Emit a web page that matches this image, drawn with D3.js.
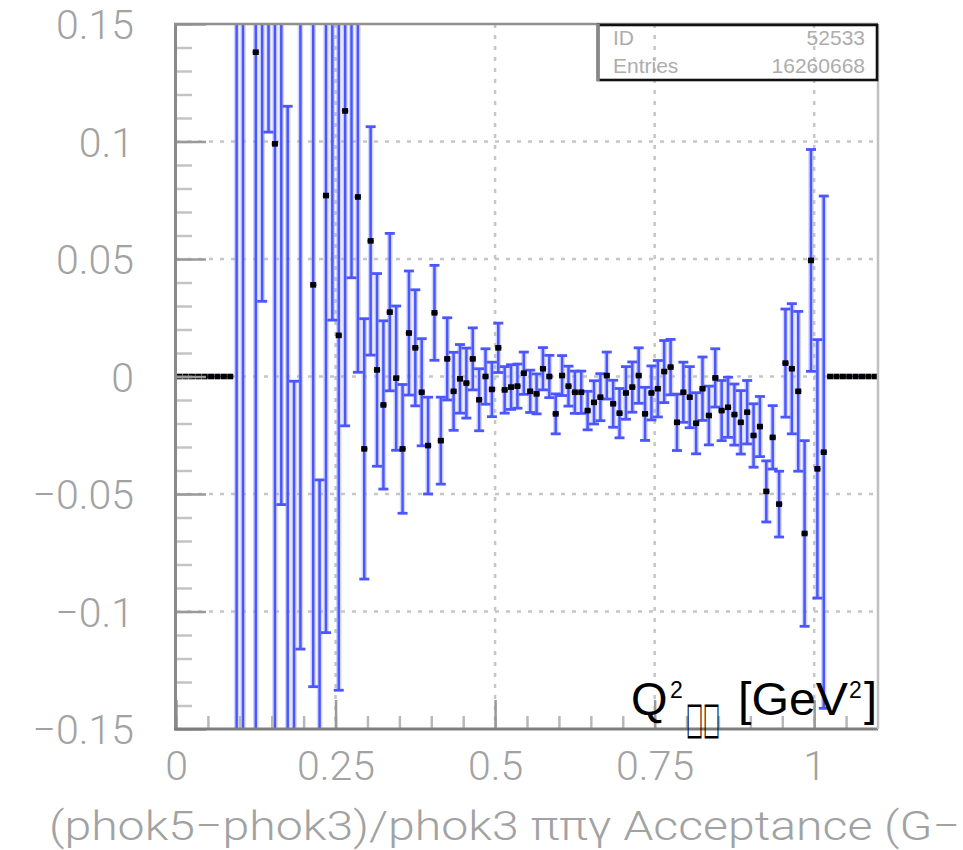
<!DOCTYPE html>
<html><head><meta charset="utf-8">
<script src="https://cdn.jsdelivr.net/npm/d3@7"></script>
<style>html,body{margin:0;padding:0;background:#fff;} svg{display:block}</style>
</head><body><svg id="chart" width="963" height="850"></svg>
<script>
// ---- data (bin centres, bin contents, bin errors) ----
const binCenters = [
  0.005,0.015,0.025,0.035,0.045,0.055,0.065,0.075,0.085,
  0.095,0.105,
  0.125,0.135,0.145,0.155,0.165,0.175,0.185,0.195,
  0.215,0.225,0.235,0.245,0.255,0.265,0.275,0.285,0.295,0.305,
  0.315,0.325,0.335,0.345,0.355,0.365,0.375,0.385,0.395,0.405,
  0.415,0.425,0.435,0.445,0.455,0.465,0.475,0.485,0.495,0.505,
  0.515,0.525,0.535,0.545,0.555,0.565,0.575,0.585,0.595,0.605,
  0.615,0.625,0.635,0.645,0.655,0.665,0.675,0.685,0.695,0.705,
  0.715,0.725,0.735,0.745,0.755,0.765,0.775,0.785,0.795,0.805,
  0.815,0.825,0.835,0.845,0.855,0.865,0.875,0.885,0.895,0.905,
  0.915,0.925,0.935,0.945,0.955,0.965,0.975,0.985,0.995,1.005,
  1.015,
  1.025,1.035,1.045,1.055,1.065,1.075,1.085,1.095
];
const values = [
  0,0,0,0,0,0,0,0,0,
  0.30,-0.25,
  0.138,0.18,0.20,0.099,0.17,-0.17,-0.20,0.17,
  0.039,-0.20,0.077,0.17,0.0175,0.113,0.16,0.0764,-0.0308,0.0577,
  0.0028,-0.0121,0.0274,-0.0007,-0.0308,0.0185,0.0122,-0.0067,-0.0294,0.0271,
  -0.0273,0.0075,-0.0063,-0.001,-0.0028,0.0075,-0.0099,0.0,-0.0055,0.0122,
  -0.0057,-0.0045,-0.0041,0.0014,-0.0063,-0.0074,0.0033,0.0,-0.0159,0.0004,
  -0.0041,-0.0067,-0.0067,-0.0145,-0.011,-0.0088,0.0004,-0.0116,-0.0156,-0.007,
  -0.0045,0.0004,-0.0159,-0.007,-0.0052,0.0021,0.004,-0.0195,-0.0067,-0.0088,
  -0.0199,-0.0052,-0.0166,-0.0006,-0.0145,-0.0131,-0.0162,-0.0195,-0.0152,-0.0251,
  -0.0213,-0.0489,-0.0259,-0.0543,0.0057,0.0033,-0.0063,-0.0668,0.0494,-0.0393,
  -0.0322,
  0,0,0,0,0,0,0,0
];
const errors = [
  0,0,0,0,0,0,0,0,0,
  0.50,0.45,
  0.32,0.148,0.096,0.27,0.2245,0.285,0.198,0.286,
  0.171,0.156,0.186,0.146,0.151,0.134,0.118,0.0746,0.0554,0.0486,
  0.041,0.0358,0.0335,0.0307,0.0274,0.0264,0.0247,0.0228,0.0206,0.0202,
  0.0185,0.0175,0.0166,0.0146,0.0149,0.0132,0.0132,0.0118,0.0116,0.0105,
  0.0099,0.0095,0.0094,0.009,0.009,0.0085,0.009,0.009,0.0085,0.0085,
  0.0085,0.009,0.009,0.0082,0.0092,0.01,0.01,0.01,0.0105,0.0112,
  0.0107,0.0118,0.0113,0.0115,0.012,0.0132,0.0118,0.012,0.0128,0.013,
  0.013,0.0135,0.0125,0.0124,0.0128,0.0128,0.013,0.0135,0.0135,0.0135,
  0.0128,0.013,0.0135,0.014,0.023,0.0277,0.034,0.0395,0.0472,0.055,
  0.109,
  0,0,0,0,0,0,0,0
];
const binWidth = 0.01;
const yMajorTicks = [-0.15,-0.1,-0.05,0,0.05,0.1,0.15];
const yTickLabels = ["\u22120.15","\u22120.1","\u22120.05","0","0.05","0.1","0.15"];
const xMajorTicks = [0,0.25,0.5,0.75,1];
const xTickLabels = ["0","0.25","0.5","0.75","1"];
const yGrid = [-0.1,-0.05,0,0.05,0.1];
const xGrid = [0.25,0.5,0.75,1];
const statsLabels = ["ID","Entries"];
const statsValues = ["52533","16260668"];
const xTitle = "(phok5\u2212phok3)/phok3 \u03c0\u03c0\u03b3 Acceptance (G\u2212";

// ---- layout ----
const svg = d3.select("#chart");
svg.append("rect").attr("width",963).attr("height",850).attr("fill","#fff");
const X0 = 176, X1 = 878, Y0 = 729, Y1 = 24;
const x = d3.scaleLinear().domain([0,1.1]).range([X0,X1]);
const y = d3.scaleLinear().domain([-0.15,0.15]).range([Y0,Y1]);
const blue = "#4b56ff";
const labelFont = "Roboto, 'Liberation Sans', sans-serif";
const labelColor = "#a2a2a2";

svg.append("defs").append("clipPath").attr("id","clip")
  .append("rect").attr("x",X0).attr("y",Y1).attr("width",X1-X0).attr("height",Y0-Y1);

// grid
const grid = svg.append("g").attr("stroke","#c6c6c6").attr("stroke-width",2.5).attr("stroke-dasharray","4 7");
grid.selectAll("line.h").data(yGrid).join("line").attr("class","h")
  .attr("x1",X0).attr("x2",X1).attr("y1",d=>y(d)).attr("y2",d=>y(d));
grid.selectAll("line.v").data(xGrid).join("line").attr("class","v")
  .attr("y1",Y1).attr("y2",Y0).attr("x1",d=>x(d)).attr("x2",d=>x(d));

// data
const pts = binCenters.map((c,i)=>({c, v: values[i], e: errors[i]}));
const plot = svg.append("g").attr("clip-path","url(#clip)");
const withErr = pts.filter(d=>d.e>0);
// soft halo (anti-aliasing look of the original bitmap)
plot.append("g").selectAll("line").data(withErr).join("line")
  .attr("x1",d=>x(d.c)).attr("x2",d=>x(d.c))
  .attr("y1",d=>y(d.v+d.e)).attr("y2",d=>y(d.v-d.e))
  .attr("stroke","#9aa2ff").attr("stroke-opacity",0.45).attr("stroke-width",5.5);
plot.append("g").selectAll("line").data(withErr).join("line")
  .attr("x1",d=>x(d.c)).attr("x2",d=>x(d.c))
  .attr("y1",d=>y(d.v+d.e)).attr("y2",d=>y(d.v-d.e))
  .attr("stroke",blue).attr("stroke-width",2.5);
const caps = [];
withErr.forEach(d=>{
  [d.v+d.e, d.v-d.e].forEach(v=>{ if (v>=-0.15 && v<=0.15) caps.push({c:d.c, v}); });
});
plot.append("g").selectAll("line").data(caps).join("line")
  .attr("x1",d=>x(d.c)-5).attr("x2",d=>x(d.c)+5)
  .attr("y1",d=>y(d.v)).attr("y2",d=>y(d.v))
  .attr("stroke",blue).attr("stroke-width",2.8);
// horizontal (bin width) error bars
plot.append("g").selectAll("line").data(pts).join("line")
  .attr("x1",d=>x(d.c-binWidth/2)).attr("x2",d=>x(d.c+binWidth/2))
  .attr("y1",d=>y(d.v)).attr("y2",d=>y(d.v))
  .attr("stroke",blue).attr("stroke-width",2.2);
// markers
plot.append("g").selectAll("rect").data(pts).join("rect")
  .attr("x",d=>x(d.c)-3).attr("y",d=>y(d.v)-2.8)
  .attr("width",6).attr("height",5.6).attr("fill","#000");

// axes: minor + major ticks (inward)
const yMinor = d3.range(-15,16).map(k=>k/100);
const xMinor = d3.range(0,22).map(k=>k*0.05);
const gyMinor = svg.append("g").attr("transform",`translate(${X0},0)`)
  .call(d3.axisLeft(y).tickValues(yMinor).tickSize(-16).tickFormat(""));
gyMinor.selectAll(".tick line").attr("stroke","#c4c4c4").attr("stroke-width",2.5);
gyMinor.select(".domain").remove();
const gy = svg.append("g").attr("transform",`translate(${X0},0)`)
  .call(d3.axisLeft(y).tickValues(yMajorTicks).tickSize(-30).tickPadding(42)
    .tickFormat((d,i)=>yTickLabels[i]));
gy.selectAll(".tick line").attr("stroke","#9a9a9a").attr("stroke-width",2.5);
gy.select(".domain").remove();
gy.selectAll(".tick text").attr("font-family",labelFont).attr("font-weight",300)
  .attr("font-size",41).attr("fill",labelColor).attr("dy","0.36em");

const gxMinor = svg.append("g").attr("transform",`translate(0,${Y0})`)
  .call(d3.axisBottom(x).tickValues(xMinor).tickSize(-13).tickFormat(""));
gxMinor.selectAll(".tick line").attr("stroke","#b8b8b8").attr("stroke-width",2.5);
gxMinor.select(".domain").remove();
const gx = svg.append("g").attr("transform",`translate(0,${Y0})`)
  .call(d3.axisBottom(x).tickValues(xMajorTicks).tickSize(-29)
    .tickFormat((d,i)=>xTickLabels[i]));
gx.selectAll(".tick line").attr("stroke","#9a9a9a").attr("stroke-width",2.5);
gx.select(".domain").remove();
gx.selectAll(".tick text").attr("font-family",labelFont).attr("font-weight",300)
  .attr("font-size",41).attr("fill",labelColor).attr("y",51).attr("dy",0);

// frame
svg.append("line").attr("x1",X0-0.5).attr("x2",X0-0.5).attr("y1",Y1).attr("y2",Y0+1.5)
  .attr("stroke","#8a8a8a").attr("stroke-width",3);
svg.append("line").attr("x1",X0-2).attr("x2",X1).attr("y1",Y0).attr("y2",Y0)
  .attr("stroke","#7e7e7e").attr("stroke-width",3);
svg.append("line").attr("x1",X0-2).attr("x2",X1).attr("y1",Y1).attr("y2",Y1)
  .attr("stroke","#909090").attr("stroke-width",2.5);
svg.append("line").attr("x1",X1).attr("x2",X1).attr("y1",Y1).attr("y2",Y0)
  .attr("stroke","#c0c0c0").attr("stroke-width",2.5);

// stats box
const sb = svg.append("g");
sb.append("rect").attr("x",598).attr("y",25).attr("width",279).attr("height",55)
  .attr("fill","none").attr("stroke","#111").attr("stroke-width",2.6);
sb.append("line").attr("x1",598).attr("x2",598).attr("y1",24).attr("y2",81)
  .attr("stroke","#888").attr("stroke-width",3.5);
sb.selectAll("text.l").data(statsLabels).join("text").attr("class","l")
  .attr("x",613).attr("y",(d,i)=>45+i*28).text(d=>d)
  .attr("font-family","'Liberation Sans', Arial, sans-serif").attr("font-size",21).attr("fill","#adadad");
sb.selectAll("text.v").data(statsValues).join("text").attr("class","v")
  .attr("x",865).attr("y",(d,i)=>45+i*28).attr("text-anchor","end").text(d=>d)
  .attr("font-family","'Liberation Sans', Arial, sans-serif").attr("font-size",21).attr("fill","#adadad");

// x-axis title
svg.append("text").attr("x",49).attr("y",840).text(xTitle)
  .attr("font-family",labelFont).attr("font-weight",300).attr("font-size",41)
  .attr("fill",labelColor).attr("textLength",911).attr("lengthAdjust","spacingAndGlyphs");

// Q^2 label
const q = svg.append("g").attr("font-family","'Liberation Sans', Arial, sans-serif").attr("fill","#000");
q.append("text").attr("x",631).attr("y",715).attr("font-size",47).text("Q");
q.append("text").attr("x",670).attr("y",698).attr("font-size",23).text("2");
q.append("text").attr("transform","translate(686,733) scale(1,1.7)")
  .attr("font-size",26).attr("textLength",34).attr("lengthAdjust","spacingAndGlyphs")
  .attr("font-family","'DejaVu Sans', sans-serif").text("\u25a1\u25a1");
q.append("text").attr("x",738).attr("y",715).attr("font-size",47)
  .attr("textLength",110).attr("lengthAdjust","spacingAndGlyphs").text("[GeV");
q.append("text").attr("x",849).attr("y",698).attr("font-size",23).text("2");
q.append("text").attr("x",864).attr("y",715).attr("font-size",47).text("]");
</script>
</body></html>
